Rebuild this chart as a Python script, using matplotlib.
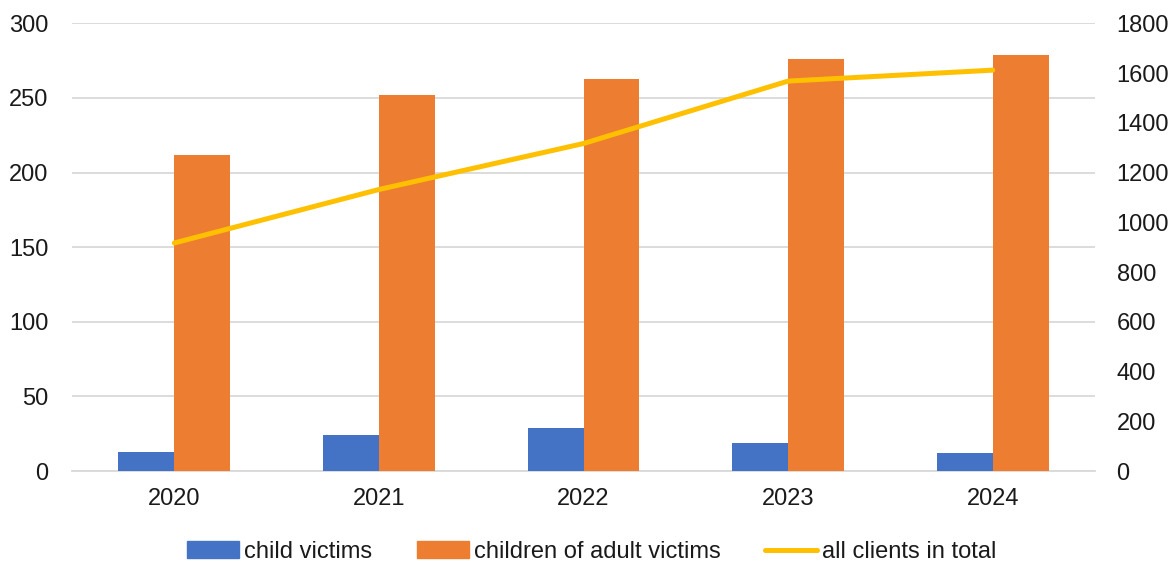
import numpy as np
import matplotlib.pyplot as plt
from matplotlib.patches import Patch
from matplotlib.lines import Line2D

plt.rcParams['font.family'] = ['Liberation Sans', 'DejaVu Sans']

years = ['2020', '2021', '2022', '2023', '2024']
child_victims = [13, 24, 29, 19, 12]
children_of_adult = [212, 252, 263, 276, 279]
all_clients = [917, 1132, 1317, 1568, 1612]

blue = '#4472C4'
orange = '#ED7D31'
yellow = '#FFC000'
grid = '#D9D9D9'
txt = '#1a1a1a'

fig = plt.figure(figsize=(11.72, 5.61), dpi=100)
ax = fig.add_axes([72 / 1172, 1 - 471 / 561, (1095 - 72) / 1172, (471 - 23.4) / 561])

x = np.arange(len(years))
w = 0.273
ax.bar(x - w / 2, child_victims, w, color=blue, zorder=3)
ax.bar(x + w / 2, children_of_adult, w, color=orange, zorder=3)

ax.set_xlim(-0.5, 4.5)
ax.set_ylim(0, 300)
ax.set_yticks(range(0, 301, 50))
ax.set_xticks(x)
ax.set_xticklabels(years)
ax.yaxis.grid(True, color=grid, lw=1.3, zorder=0)
for s in ['top', 'right', 'left']:
    ax.spines[s].set_visible(False)
ax.spines['bottom'].set_color(grid)
ax.spines['bottom'].set_linewidth(1.3)
ax.tick_params(axis='both', length=0, labelsize=17, colors=txt)
ax.tick_params(axis='x', pad=12)
ax.tick_params(axis='y', pad=17)

ax2 = ax.twinx()
ax2.plot(x, all_clients, color=yellow, lw=3.6, solid_capstyle='round',
         solid_joinstyle='round', zorder=4)
ax2.set_ylim(0, 1800)
ax2.set_yticks(range(0, 1801, 200))
for s in ['top', 'right', 'left', 'bottom']:
    ax2.spines[s].set_visible(False)
ax2.tick_params(axis='y', length=0, labelsize=17, colors=txt, pad=15.5)

handles = [
    Patch(color=blue),
    Patch(color=orange),
    Line2D([0], [0], color=yellow, lw=3.6, solid_capstyle='round'),
]
labels = ['child victims', 'children of adult victims', 'all clients in total']
fig.legend(handles, labels, loc='center', bbox_to_anchor=(0.505, 1 - 552 / 561),
           ncol=3, frameon=False, fontsize=17, handlelength=2.2,
           handletextpad=0.2, columnspacing=1.9, labelcolor=txt)

fig.savefig('out.png', dpi=100)
